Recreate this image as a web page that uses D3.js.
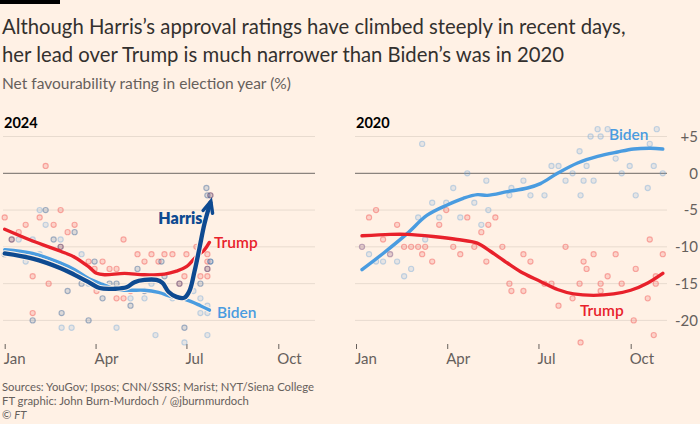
<!DOCTYPE html>
<html><head><meta charset="utf-8">
<script src="https://cdn.jsdelivr.net/npm/d3@7"></script>
<style>
html,body{margin:0;padding:0;background:#fff1e5;}
svg{display:block;font-family:Lato,"Open Sans",sans-serif;}
</style></head><body>
<svg id="chart" width="700" height="424"></svg>
<script>
// ---------- DATA (day of year since 1 Jan, net favourability %) ----------
const monthTicks = [0, 3, 6, 9];
const monthLabels = ["Jan", "Apr", "Jul", "Oct"];
const yTicks = [5, 0, -5, -10, -15, -20];
const yTickLabels = ["+5", "0", "-5", "-10", "-15", "-20"];

const trump2024Polls = [[0,-6],[7,-9],[14,-8],[21,-7],[28,-14],[28,-19],[35,-6],[41,1],[44,-15],[49,-7],[56,-5],[56,-10],[63,-8],[70,-7],[84,-12],[90,-13],[92,-16],[98,-12],[105,-13],[112,-13],[112,-17],[119,-9],[119,-17],[126,-16],[133,-11],[140,-12],[147,-11],[154,-12],[160,-11],[168,-11],[175,-15],[180,-14],[182,-11],[192,-10],[196,-14],[203,-14],[203,-13],[203,-12],[203,-11],[206,-3]];
const biden2024Polls = [[14,-9],[21,-12],[28,-9],[35,-5],[35,-11],[41,-7],[56,-9],[57,-21],[67,-21],[77,-11],[84,-15],[112,-21],[126,-17],[140,-17],[147,-15],[151,-22],[168,-17],[180,-23],[182,-17],[189,-16],[196,-17],[196,-19],[203,-18],[203,-19],[203,-22],[206,-12]];
const harris2024Polls = [[0,-11],[7,-9],[28,-20],[41,-5],[49,-9],[56,-10],[57,-19],[63,-16],[70,-8],[77,-15],[84,-20],[90,-12],[98,-17],[105,-15],[112,-15],[126,-18],[133,-13],[140,-16],[157,-12],[160,-14],[175,-15],[180,-21],[196,-15],[203,-13],[202,-2],[203,-3],[206,-3],[206,-12]];

const trump2024Trend = [[0,-7.6],[28,-9.2],[56,-10.6],[70,-11.4],[84,-12.7],[92,-13.6],[100,-13.8],[120,-13.6],[140,-13.8],[160,-13.7],[172,-13.3],[182,-12.7],[192,-11.3],[200,-10.4],[205,-9.4]];
const biden2024Trend = [[0,-10.4],[28,-10.9],[56,-12.2],[70,-13.1],[84,-14.3],[98,-15.1],[112,-15.8],[126,-15.9],[140,-15.9],[154,-16.2],[168,-16.8],[182,-17.2],[196,-18.0],[205,-18.6]];
const harris2024Trend = [[0,-10.9],[28,-11.6],[56,-12.9],[70,-13.8],[84,-14.8],[95,-15.6],[110,-15.7],[122,-15.5],[130,-14.8],[140,-14.5],[152,-14.5],[158,-14.9],[164,-16.1],[172,-16.8],[180,-16.9],[185,-16.0],[190,-13.4],[195,-10.2],[200,-6.9],[206,-4.0]];

const trump2020Polls = [[6,-10],[13,-6],[20,-5],[27,-9],[34,-11],[41,-7],[48,-10],[55,-10],[62,-10],[66,-11],[69,-10],[76,-12],[83,-7],[90,-5],[97,-10],[104,-11],[111,-6],[118,-10],[125,-8],[130,-12],[132,-7],[139,-6],[146,-10],[153,-15],[155,-16],[167,-16],[167,-11],[174,-12],[188,-15],[195,-15],[202,-18],[209,-10],[216,-17],[223,-15],[224,-23],[227,-12],[230,-13],[237,-11],[244,-15],[244,-16],[251,-14],[259,-11],[265,-15],[277,-20],[279,-13],[291,-17],[293,-9],[297,-22],[299,-14],[299,-15],[306,-11]];
const biden2020Polls = [[6,-10],[13,-11],[20,-12],[27,-12],[34,-11],[41,-12],[48,-14],[55,-13],[62,-6],[66,4],[69,-9],[76,-4],[83,-6],[90,-4],[97,-2],[104,-6],[111,0],[118,-4],[125,-7],[130,-1],[132,-5],[153,-3],[155,-2],[167,-1],[174,-3],[188,-3],[195,1],[202,1],[209,-1],[216,0],[223,3],[224,-3],[227,-1],[230,1],[234,5],[237,-1],[241,6],[244,5],[251,6],[259,2],[265,0],[273,1],[279,-3],[291,-2],[293,4],[297,1],[300,6],[306,0]];

const biden2020Trend = [[6,-13.1],[27,-10.9],[51,-8.2],[71,-5.7],[91,-4.3],[107,-3.4],[121,-2.9],[131,-3.0],[151,-2.5],[171,-2.0],[184,-1.4],[201,0],[221,1.4],[241,2.3],[261,2.9],[277,3.3],[294,3.4],[306,3.3]];
const trump2020Trend = [[6,-8.5],[34,-8.3],[51,-8.3],[77,-8.6],[101,-9.0],[121,-9.5],[134,-10.6],[151,-12.2],[167,-13.6],[184,-14.7],[201,-15.8],[217,-16.4],[237,-16.6],[257,-16.4],[274,-15.9],[291,-14.9],[306,-13.6]];

// ---------- STYLE ----------
const C = {
  paper: "#fff1e5", text: "#33302e", muted: "#66605c", grid: "#e8dbcf", zero: "#6f6964",
  trump: "#e8212b", biden: "#4a9ce0", harris: "#0e4a91",
  trumpDot: "#ee3b3b", bidenDot: "#6aa3d8", harrisDot: "#2e5b94"
};

const svg = d3.select("#chart");
svg.append("rect").attr("width", 700).attr("height", 424).attr("fill", C.paper);
svg.append("rect").attr("x", 0).attr("y", 0).attr("width", 60).attr("height", 4).attr("fill", "#000");

svg.append("text").attr("x", 2).attr("y", 34).attr("font-size", 20.3).attr("fill", C.text)
  .text("Although Harris’s approval ratings have climbed steeply in recent days,");
svg.append("text").attr("x", 2).attr("y", 62).attr("font-size", 20.3).attr("fill", C.text)
  .text("her lead over Trump is much narrower than Biden’s was in 2020");
svg.append("text").attr("x", 2).attr("y", 89).attr("font-size", 15.5).attr("fill", C.muted)
  .text("Net favourability rating in election year (%)");

const foot = ["Sources: YouGov; Ipsos; CNN/SSRS; Marist; NYT/Siena College",
  "FT graphic: John Burn-Murdoch / @jburnmurdoch"];
foot.forEach((t, i) => svg.append("text").attr("x", 2).attr("y", 391 + i * 14)
  .attr("font-size", 11.3).attr("fill", C.muted).text(t));
const cp = svg.append("text").attr("x", 2).attr("y", 419).attr("font-size", 11.3).attr("fill", C.muted);
cp.append("tspan").text("© ");
cp.append("tspan").attr("font-style", "italic").text("FT");

const y = d3.scaleLinear().domain([0, -20]).range([173.3, 320.4]);

function dayDate(year, d) { return new Date(year, 0, 1 + d); }

function panel(cfg) {
  const x = d3.scaleTime()
    .domain([new Date(cfg.year, 0, 1), new Date(cfg.year, 9, 1)])
    .range(cfg.range);
  const g = svg.append("g");

  g.selectAll("line.grid").data(yTicks).join("line")
    .attr("x1", cfg.gx[0]).attr("x2", cfg.gx[1])
    .attr("y1", d => y(d)).attr("y2", d => y(d))
    .attr("stroke", d => d === 0 ? C.zero : C.grid).attr("stroke-width", 1);

  const ax = g.append("g").attr("transform", "translate(0,344)")
    .call(d3.axisBottom(x)
      .tickValues(monthTicks.map(m => new Date(cfg.year, m, 1)))
      .tickSize(5).tickPadding(4)
      .tickFormat((d, i) => monthLabels[i]));
  ax.select(".domain").remove();
  ax.selectAll(".tick line").attr("stroke", C.muted);
  ax.selectAll(".tick text").attr("text-anchor", "start").attr("x", -1.5)
    .attr("fill", C.muted).attr("font-size", 15).attr("font-family", "Lato,sans-serif");

  g.append("text").attr("x", cfg.gx[0] + 1).attr("y", 128).attr("font-size", 14.5)
    .attr("font-weight", 700).attr("fill", "#000").text(cfg.year);

  cfg.polls.forEach(p => {
    g.append("g").selectAll("circle").data(p.data).join("circle")
      .attr("cx", d => x(dayDate(cfg.year, d[0])))
      .attr("cy", d => y(d[1]))
      .attr("r", 2.6)
      .attr("fill", p.color).attr("fill-opacity", 0.16)
      .attr("stroke", p.color).attr("stroke-opacity", p.op).attr("stroke-width", 1.1);
  });

  const line = d3.line()
    .x(d => x(dayDate(cfg.year, d[0])))
    .y(d => y(d[1]))
    .curve(d3.curveCatmullRom.alpha(0.5));

  cfg.trends.forEach(t => {
    if (t.halo) {
      g.append("path").attr("d", line(t.data)).attr("fill", "none")
        .attr("stroke", C.paper).attr("stroke-width", t.w + 2.2)
        .attr("stroke-linecap", "round").attr("stroke-linejoin", "round");
    }
    g.append("path").attr("d", line(t.data)).attr("fill", "none")
      .attr("stroke", t.color).attr("stroke-width", t.w)
      .attr("stroke-linecap", "round").attr("stroke-linejoin", "round");
    if (t.arrow) {
      const n = t.data.length;
      const p1 = [x(dayDate(cfg.year, t.data[n - 2][0])), y(t.data[n - 2][1])];
      const p2 = [x(dayDate(cfg.year, t.data[n - 1][0])), y(t.data[n - 1][1])];
      const ang = Math.atan2(p2[1] - p1[1], p2[0] - p1[0]);
      const L = 12, spread = 0.42;
      const tip = [p2[0] + Math.cos(ang) * 1.5, p2[1] + Math.sin(ang) * 1.5];
      const a1 = [tip[0] - L * Math.cos(ang - spread), tip[1] - L * Math.sin(ang - spread)];
      const a2 = [tip[0] - L * Math.cos(ang + spread), tip[1] - L * Math.sin(ang + spread)];
      g.append("path").attr("d", `M${a1}L${tip}L${a2}`).attr("fill", "none")
        .attr("stroke", t.color).attr("stroke-width", t.w - 0.8)
        .attr("stroke-linecap", "round").attr("stroke-linejoin", "miter");
    }
  });

  cfg.labels.forEach(l => {
    g.append("text").attr("x", l.x).attr("y", l.y).attr("text-anchor", l.anchor || "start")
      .attr("font-size", l.size || 15.5).attr("font-weight", l.weight || 600)
      .attr("fill", l.color).text(l.text);
  });
  return x;
}

panel({
  year: 2024, range: [4.7, 278.3], gx: [3, 315],
  polls: [
    { data: trump2024Polls, color: C.trumpDot, op: 0.38 },
    { data: biden2024Polls, color: C.bidenDot, op: 0.38 },
    { data: harris2024Polls, color: C.harrisDot, op: 0.42 }
  ],
  trends: [
    { data: trump2024Trend, color: C.trump, w: 3.4 },
    { data: biden2024Trend, color: C.biden, w: 3.4, halo: true },
    { data: harris2024Trend, color: C.harris, w: 4.3, halo: true, arrow: true }
  ],
  labels: [
    { text: "Harris", x: 202.5, y: 224, anchor: "end", color: C.harris, weight: 800, size: 16 },
    { text: "Trump", x: 214, y: 248, color: C.trump },
    { text: "Biden", x: 217, y: 317.5, color: C.biden }
  ]
});

panel({
  year: 2020, range: [356, 630.7], gx: [355, 667],
  polls: [
    { data: trump2020Polls, color: C.trumpDot, op: 0.38 },
    { data: biden2020Polls, color: C.bidenDot, op: 0.38 }
  ],
  trends: [
    { data: biden2020Trend, color: C.biden, w: 3.4 },
    { data: trump2020Trend, color: C.trump, w: 3.4 }
  ],
  labels: [
    { text: "Biden", x: 609, y: 139.5, color: C.biden },
    { text: "Trump", x: 580, y: 316, color: C.trump }
  ]
});

const ya = svg.append("g").attr("transform", "translate(698,0)")
  .call(d3.axisRight(y).tickValues(yTicks).tickSize(0).tickPadding(0)
    .tickFormat((d, i) => yTickLabels[i]));
ya.select(".domain").remove();
ya.selectAll(".tick text").attr("text-anchor", "end").attr("x", 0)
  .attr("fill", C.muted).attr("font-size", 15).attr("font-family", "Lato,sans-serif");
</script>
</body></html>
